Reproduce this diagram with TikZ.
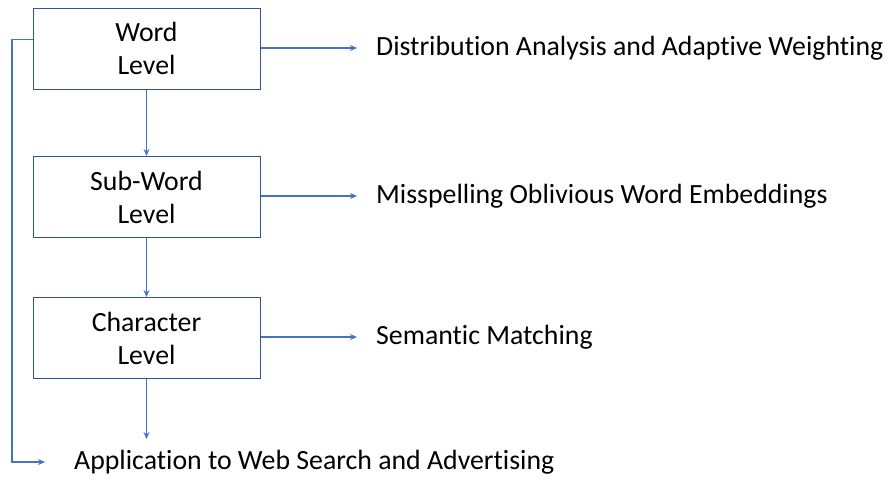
\documentclass[tikz,border=0pt]{standalone}
\usepackage{fontspec}
\setmainfont{Carlito}[Ligatures=NoCommon]
\usetikzlibrary{arrows.meta, positioning}
\definecolor{linkblue}{HTML}{4472C4}
\definecolor{boxedge}{HTML}{2F5597}
\tikzset{Levels/.style={
    x=1pt, y=-1pt,
    font=\fontsize{27.8}{33}\selectfont,
    level/.style = {draw=boxedge, line width=1pt, minimum width=227pt, minimum height=81pt, align=center},
    result/.style = {anchor=west, inner sep=0pt},
    link/.style = {draw=linkblue, line width=1.3pt, -{Stealth[length=7pt,width=6pt]}}
}}

\begin{document}
\begin{tikzpicture}[Levels]
    \useasboundingbox (0,0) rectangle (888,479);
    \node [level] (word) at (146.5,48.5) {
        Word\\Level
    };
    \node [level] (subword) at (146.5,197) {
        Sub-Word\\Level
    };
    \node [level] (char) at (146.5,338) {
        Character\\Level
    };
    \node [result] (dist) at (376,48) {Distribution Analysis and Adaptive Weighting};
    \node [result] (moe) at (376,196) {Misspelling Oblivious Word Embeddings};
    \node [result] (sem) at (376,337) {Semantic Matching};
    \node [result] (app) at (74,462) {Application to Web Search and Advertising};

    \coordinate (down) at (146.5,439);
    \coordinate (bend) at (12,462);

    \draw [link] (word.east |- dist) -- ([xshift=-19pt]dist.west);
    \draw [link] (subword.east |- moe) -- ([xshift=-19pt]moe.west);
    \draw [link] (char.east |- sem) -- ([xshift=-19pt]sem.west);
    \draw [link] (word) -- (subword);
    \draw [link] (subword) -- (char);
    \draw [link] (char) -- (down);
    \draw [link] ([yshift=9pt]word.west) -| (bend) -- ([xshift=-29pt]app.west);
\end{tikzpicture}
\end{document}
